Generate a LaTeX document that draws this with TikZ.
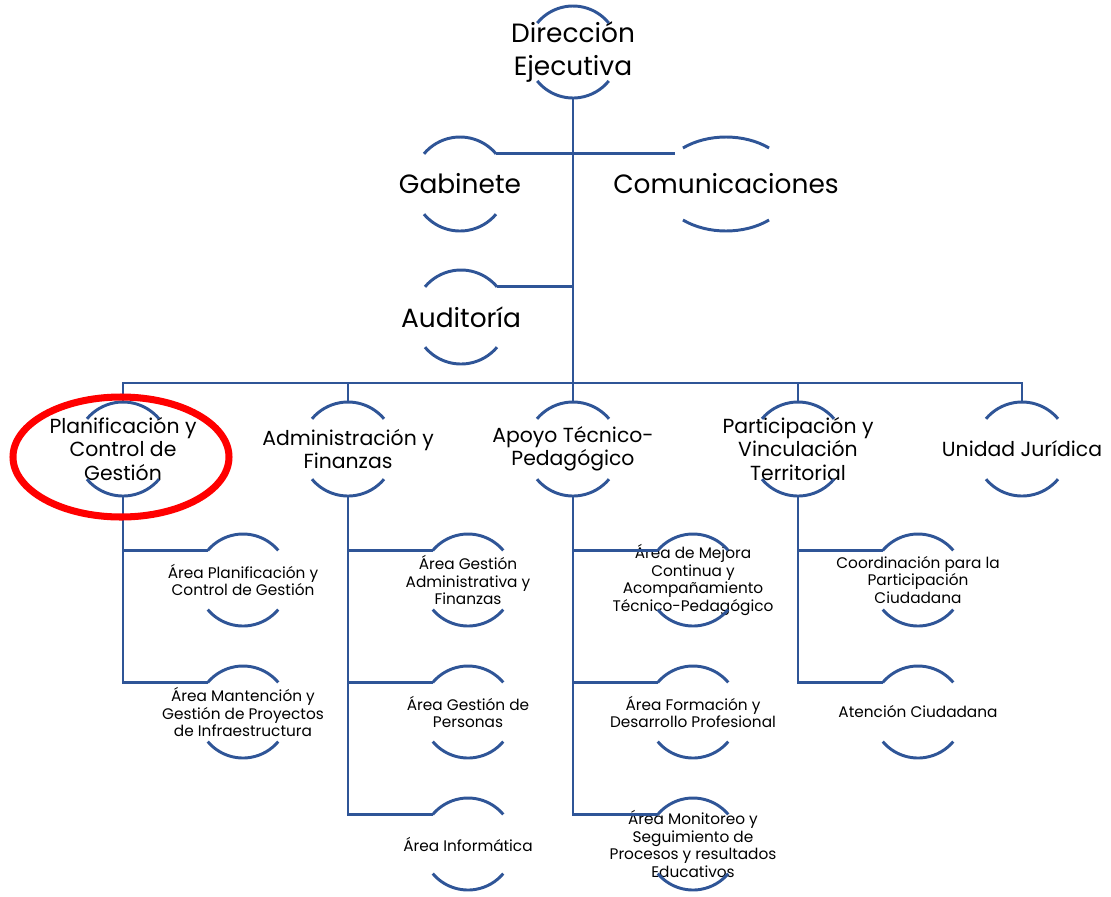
\documentclass[tikz,border=0pt]{standalone}
\usepackage{fontspec}
\setmainfont{Poppins}
\usepackage{xcolor}
\usepackage{tikz}
\usetikzlibrary{calc}
\definecolor{orgblue}{RGB}{47,85,151}
\definecolor{ringred}{RGB}{255,0,0}
\tikzset{
  unit/.style={align=center, inner sep=0pt, text=black},
  bigunit/.style={unit, font=\fontsize{18.8}{22.8}\selectfont},
  midunit/.style={unit, font=\fontsize{14.5}{16.7}\selectfont},
  smallunit/.style={unit, font=\fontsize{10.9}{12.4}\selectfont},
  arcline/.style={draw=orgblue, line width=2.1pt},
  conn/.style={draw=orgblue, line width=2.1pt},
  redring/.style={draw=ringred, line width=5pt}
}

\begin{document}
\begin{tikzpicture}[x=0.025cm, y=0.025cm]
  \useasboundingbox (0,0) rectangle (1111,-896);

  % Top level
  \node[bigunit] (dir) at (573,-52) {Dirección\\Ejecutiva};
  \node[bigunit] (gab) at (460,-184) {Gabinete};
  \node[bigunit] (com) at (726,-184) {Comunicaciones};
  \node[bigunit] (aud) at (461,-317) {Auditoría};

  % Departments
  \node[midunit] (pla) at (123,-449) {Planificación y\\Control de\\Gestión};
  \node[midunit] (adm) at (348,-449) {Administración y\\Finanzas};
  \node[midunit] (apo) at (573,-449) {Apoyo Técnico-\\Pedagógico};
  \node[midunit] (par) at (798,-449) {Participación y\\Vinculación\\Territorial};
  \node[midunit] (jur) at (1022,-449) {Unidad Jurídica};

  % Areas
  \node[smallunit] (pla1) at (243,-580) {Área Planificación y\\Control de Gestión};
  \node[smallunit] (pla2) at (243,-712) {Área Mantención y\\Gestión de Proyectos\\de Infraestructura};
  \node[smallunit] (adm1) at (468,-580) {Área Gestión\\Administrativa y\\Finanzas};
  \node[smallunit] (adm2) at (468,-712) {Área Gestión de\\Personas};
  \node[smallunit] (adm3) at (468,-844) {Área Informática};
  \node[smallunit] (apo1) at (693,-580) {Área de  Mejora\\Continua y\\Acompañamiento\\Técnico-Pedagógico};
  \node[smallunit] (apo2) at (693,-712) {Área Formación y\\Desarrollo Profesional};
  \node[smallunit] (apo3) at (693,-844) {Área Monitoreo y\\Seguimiento de\\Procesos y resultados\\Educativos};
  \node[smallunit] (par1) at (918,-580) {Coordinación para la\\Participación\\Ciudadana};
  \node[smallunit] (par2) at (918,-712) {Atención Ciudadana};

  % Arcs above and below every unit
  \foreach \n/\rx/\ry/\a in {dir/46/46/39, gab/47/47/40, com/67/47/50, aud/47/47/40,
      pla/47/47/40, adm/47/47/40, apo/47/47/40, par/47/47/40, jur/47/47/40,
      pla1/46/46/40, pla2/46/46/40, adm1/46/46/40, adm2/46/46/40, adm3/46/46/40,
      apo1/46/46/40, apo2/46/46/40, apo3/46/46/40, par1/46/46/40, par2/46/46/40} {
    \coordinate (\n-tr) at ($(\n.center)+({\rx*cos(\a)},{\ry*sin(\a)})$);
    \coordinate (\n-tl) at ($(\n.center)+({-\rx*cos(\a)},{\ry*sin(\a)})$);
    \coordinate (\n-bl) at ($(\n.center)+({-\rx*cos(\a)},{-\ry*sin(\a)})$);
    \coordinate (\n-top) at ($(\n.center)+(0,\ry)$);
    \coordinate (\n-bot) at ($(\n.center)+(0,-\ry)$);
    \draw[arcline] (\n-tr) arc[start angle=\a, end angle=180-\a, x radius=\rx, y radius=\ry];
    \draw[arcline] (\n-bl) arc[start angle=180+\a, end angle=360-\a, x radius=\rx, y radius=\ry];
  }
  \coordinate (com-in) at ($(com.center)+({67*cos(140)},{47*sin(140)})$);
  \coordinate (bus) at (573,-383);

  % Connectors
  \draw[conn] (dir-bot) -- (apo-top);
  \draw[conn] (gab-tr) -- (com-in);
  \draw[conn] (aud-tr) -- (aud-tr -| dir-bot);
  \draw[conn] (pla-top) |- (bus) -| (jur-top);
  \foreach \n in {adm,par}
    \draw[conn] (\n-top) -- (\n-top |- bus);

  \draw[conn] (pla-bot) |- (pla2-tl);
  \draw[conn] (pla-bot |- pla1-tl) -- (pla1-tl);
  \draw[conn] (adm-bot) |- (adm3-tl);
  \foreach \c in {adm1,adm2}
    \draw[conn] (adm-bot |- \c-tl) -- (\c-tl);
  \draw[conn] (apo-bot) |- (apo3-tl);
  \foreach \c in {apo1,apo2}
    \draw[conn] (apo-bot |- \c-tl) -- (\c-tl);
  \draw[conn] (par-bot) |- (par2-tl);
  \draw[conn] (par-bot |- par1-tl) -- (par1-tl);

  % Highlight
  \draw[redring] (121,-457) ellipse [x radius=108, y radius=60];
\end{tikzpicture}
\end{document}
